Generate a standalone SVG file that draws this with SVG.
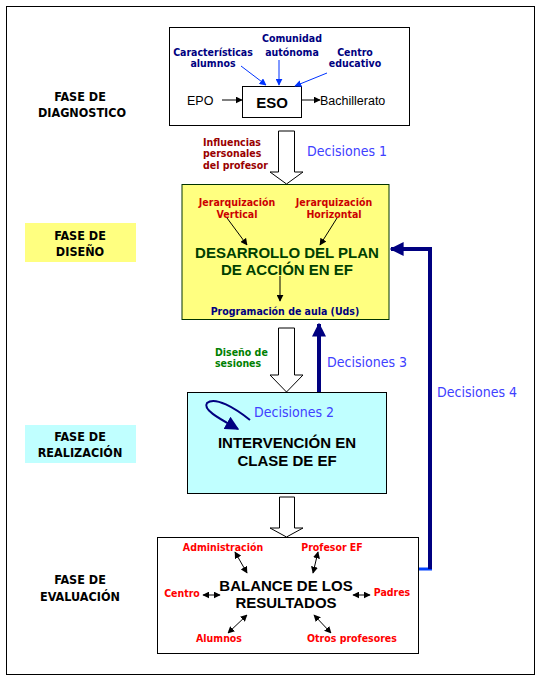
<svg xmlns="http://www.w3.org/2000/svg" width="547" height="686" viewBox="0 0 547 686">
<defs>
<marker id="ab" viewBox="0 0 10 10" refX="9" refY="5" markerWidth="7" markerHeight="7" orient="auto" markerUnits="userSpaceOnUse"><path d="M0,0 L10,5 L0,10 z" fill="#0033ff"/></marker>
<marker id="ak" viewBox="0 0 10 10" refX="9" refY="5" markerWidth="7" markerHeight="7" orient="auto" markerUnits="userSpaceOnUse"><path d="M0,0 L10,5 L0,10 z" fill="#000"/></marker>
<marker id="aks" viewBox="0 0 10 10" refX="1" refY="5" markerWidth="7" markerHeight="7" orient="auto" markerUnits="userSpaceOnUse"><path d="M10,0 L0,5 L10,10 z" fill="#000"/></marker>
<marker id="an" viewBox="0 0 10 10" refX="9" refY="5" markerWidth="14" markerHeight="14" orient="auto" markerUnits="userSpaceOnUse"><path d="M0,0 L10,5 L0,10 z" fill="#000080"/></marker>
</defs>
<style>
.lab{font-family:"DejaVu Sans Condensed","DejaVu Sans",sans-serif;font-weight:bold;font-size:10.5px;text-anchor:middle}
.phase{font-family:"DejaVu Sans Condensed","DejaVu Sans",sans-serif;font-weight:bold;font-size:12.5px;text-anchor:middle;fill:#000}
.dec{font-family:"DejaVu Sans Condensed","DejaVu Sans",sans-serif;font-size:14px;fill:#4040ff}
.big{font-family:"Liberation Sans",Arial,sans-serif;font-weight:bold;font-size:15px;text-anchor:middle}
.reg{font-family:"Liberation Sans",Arial,sans-serif;font-size:12.5px;fill:#000}
.fat{fill:#fff;stroke:#000;stroke-width:1}
.thin{stroke:#000;stroke-width:1;fill:none}
</style>
<rect x="6.5" y="6.5" width="528" height="668" fill="#fff" stroke="#000"/>

<g id="phase-diagnostico"><text class="phase" x="80" y="101">FASE DE</text><text class="phase" x="82" y="117">DIAGNOSTICO</text></g>
<g id="phase-diseno"><rect x="25" y="223" width="111" height="39" fill="#ffff80"/><text class="phase" x="80" y="240">FASE DE</text><text class="phase" x="80" y="256">DISEÑO</text></g>
<g id="phase-realizacion"><rect x="25" y="425" width="111" height="38" fill="#c0ffff"/><text class="phase" x="80" y="441">FASE DE</text><text class="phase" x="80" y="457">REALIZACIÓN</text></g>
<g id="phase-evaluacion"><text class="phase" x="80" y="584">FASE DE</text><text class="phase" x="80" y="601">EVALUACIÓN</text></g>

<g id="node-diagnostico">
<rect x="169.5" y="27.5" width="240" height="98" fill="#fff" stroke="#000"/>
<text class="lab" fill="#000080" x="213" y="56">Características</text>
<text class="lab" fill="#000080" x="213" y="67">alumnos</text>
<text class="lab" fill="#000080" x="292" y="42">Comunidad</text>
<text class="lab" fill="#000080" x="292" y="56">autónoma</text>
<text class="lab" fill="#000080" x="355" y="56">Centro</text>
<text class="lab" fill="#000080" x="355" y="67">educativo</text>
<text class="reg" x="187" y="105">EPO</text>
<text class="reg" x="320" y="105">Bachillerato</text>
</g>
<g id="node-eso"><rect x="242.5" y="86.5" width="59" height="31" fill="#fff" stroke="#000"/><text class="big" fill="#000" x="272" y="108">ESO</text></g>

<g id="node-diseno">
<rect x="182" y="184.5" width="207" height="135" fill="#ffff80" stroke="#003300"/>
<text class="lab" fill="#cc0000" x="237" y="206">Jerarquización</text>
<text class="lab" fill="#cc0000" x="237" y="218">Vertical</text>
<text class="lab" fill="#cc0000" x="334" y="206">Jerarquización</text>
<text class="lab" fill="#cc0000" x="334" y="218">Horizontal</text>
<text class="big" fill="#004000" x="287" y="258">DESARROLLO DEL PLAN</text>
<text class="big" fill="#004000" x="287" y="275">DE ACCIÓN EN EF</text>
<text class="lab" fill="#000080" x="285" y="315">Programación de aula (Uds)</text>
</g>

<g id="node-realizacion">
<rect x="187.5" y="392.5" width="199" height="101" fill="#c0ffff" stroke="#000"/>
<text class="dec" x="254" y="417">Decisiones 2</text>
<text class="big" fill="#000" x="287" y="448">INTERVENCIÓN EN</text>
<text class="big" fill="#000" x="287" y="466">CLASE DE EF</text>
</g>

<g id="node-evaluacion">
<rect x="157.5" y="537.5" width="261" height="116" fill="#fff" stroke="#000"/>
<text class="lab" fill="#ff0000" x="223" y="551">Administración</text>
<text class="lab" fill="#ff0000" x="332" y="551">Profesor EF</text>
<text class="lab" fill="#ff0000" x="182" y="597">Centro</text>
<text class="lab" fill="#ff0000" x="392" y="596">Padres</text>
<text class="lab" fill="#ff0000" x="219" y="642">Alumnos</text>
<text class="lab" fill="#ff0000" x="352" y="642">Otros profesores</text>
<text class="big" fill="#000" x="286" y="591">BALANCE DE LOS</text>
<text class="big" fill="#000" x="286" y="608">RESULTADOS</text>
</g>

<g id="labels">
<text class="lab" fill="#990000" x="203" y="146" style="text-anchor:start">Influencias</text>
<text class="lab" fill="#990000" x="203" y="157" style="text-anchor:start">personales</text>
<text class="lab" fill="#990000" x="203" y="169" style="text-anchor:start">del profesor</text>
<text class="dec" x="307" y="156">Decisiones 1</text>
<text class="lab" fill="#008000" x="215" y="356" style="text-anchor:start">Diseño de</text>
<text class="lab" fill="#008000" x="215" y="367" style="text-anchor:start">sesiones</text>
<text class="dec" x="327" y="367">Decisiones 3</text>
<text class="dec" x="437" y="397">Decisiones 4</text>
</g>

<g id="connectors">
<line x1="241" y1="66" x2="266" y2="85" stroke="#0033ff" stroke-width="1" marker-end="url(#ab)"/>
<line x1="279" y1="60" x2="279" y2="85" stroke="#0033ff" stroke-width="1" marker-end="url(#ab)"/>
<line x1="327" y1="73" x2="295" y2="86" stroke="#0033ff" stroke-width="1" marker-end="url(#ab)"/>
<line x1="222" y1="100" x2="242" y2="100" class="thin" marker-end="url(#ak)"/>
<line x1="302" y1="100" x2="320" y2="100" class="thin" marker-end="url(#ak)"/>
<polygon class="fat" points="278.5,131 294.5,131 294.5,172 303,172 286.5,184 270,172 278.5,172"/>
<line x1="227" y1="218" x2="247" y2="245" class="thin" marker-end="url(#ak)"/>
<line x1="337" y1="218" x2="320" y2="245" class="thin" marker-end="url(#ak)"/>
<line x1="280" y1="276" x2="280" y2="301" class="thin" marker-end="url(#ak)"/>
<polygon class="fat" points="278.5,328 294.5,328 294.5,375 303,375 286.5,392 270,375 278.5,375"/>
<line x1="319" y1="392" x2="319" y2="324" stroke="#000080" stroke-width="4" marker-end="url(#an)"/>
<path d="M250,420 C235,408 215,396 207,403 C202,410 222,420 238,429" fill="none" stroke="#000080" stroke-width="2" marker-end="url(#an)"/>
<polygon class="fat" points="279.5,497 294.5,497 294.5,528 303,528 286.5,537 270,528 279.5,528"/>
<line x1="419" y1="569" x2="432" y2="569" stroke="#0040ff" stroke-width="3"/>
<polyline points="430,569 430,249 391,249" fill="none" stroke="#000080" stroke-width="4" marker-end="url(#an)"/>
<line x1="235" y1="552" x2="247" y2="573" class="thin" marker-start="url(#aks)" marker-end="url(#ak)"/>
<line x1="318" y1="552" x2="313" y2="573" class="thin" marker-start="url(#aks)" marker-end="url(#ak)"/>
<line x1="203" y1="595" x2="220" y2="595" class="thin" marker-start="url(#aks)" marker-end="url(#ak)"/>
<line x1="353" y1="595" x2="370" y2="595" class="thin" marker-start="url(#aks)" marker-end="url(#ak)"/>
<line x1="228" y1="633" x2="247" y2="615" class="thin" marker-start="url(#aks)" marker-end="url(#ak)"/>
<line x1="314" y1="615" x2="331" y2="633" class="thin" marker-start="url(#aks)" marker-end="url(#ak)"/>
</g>
</svg>
